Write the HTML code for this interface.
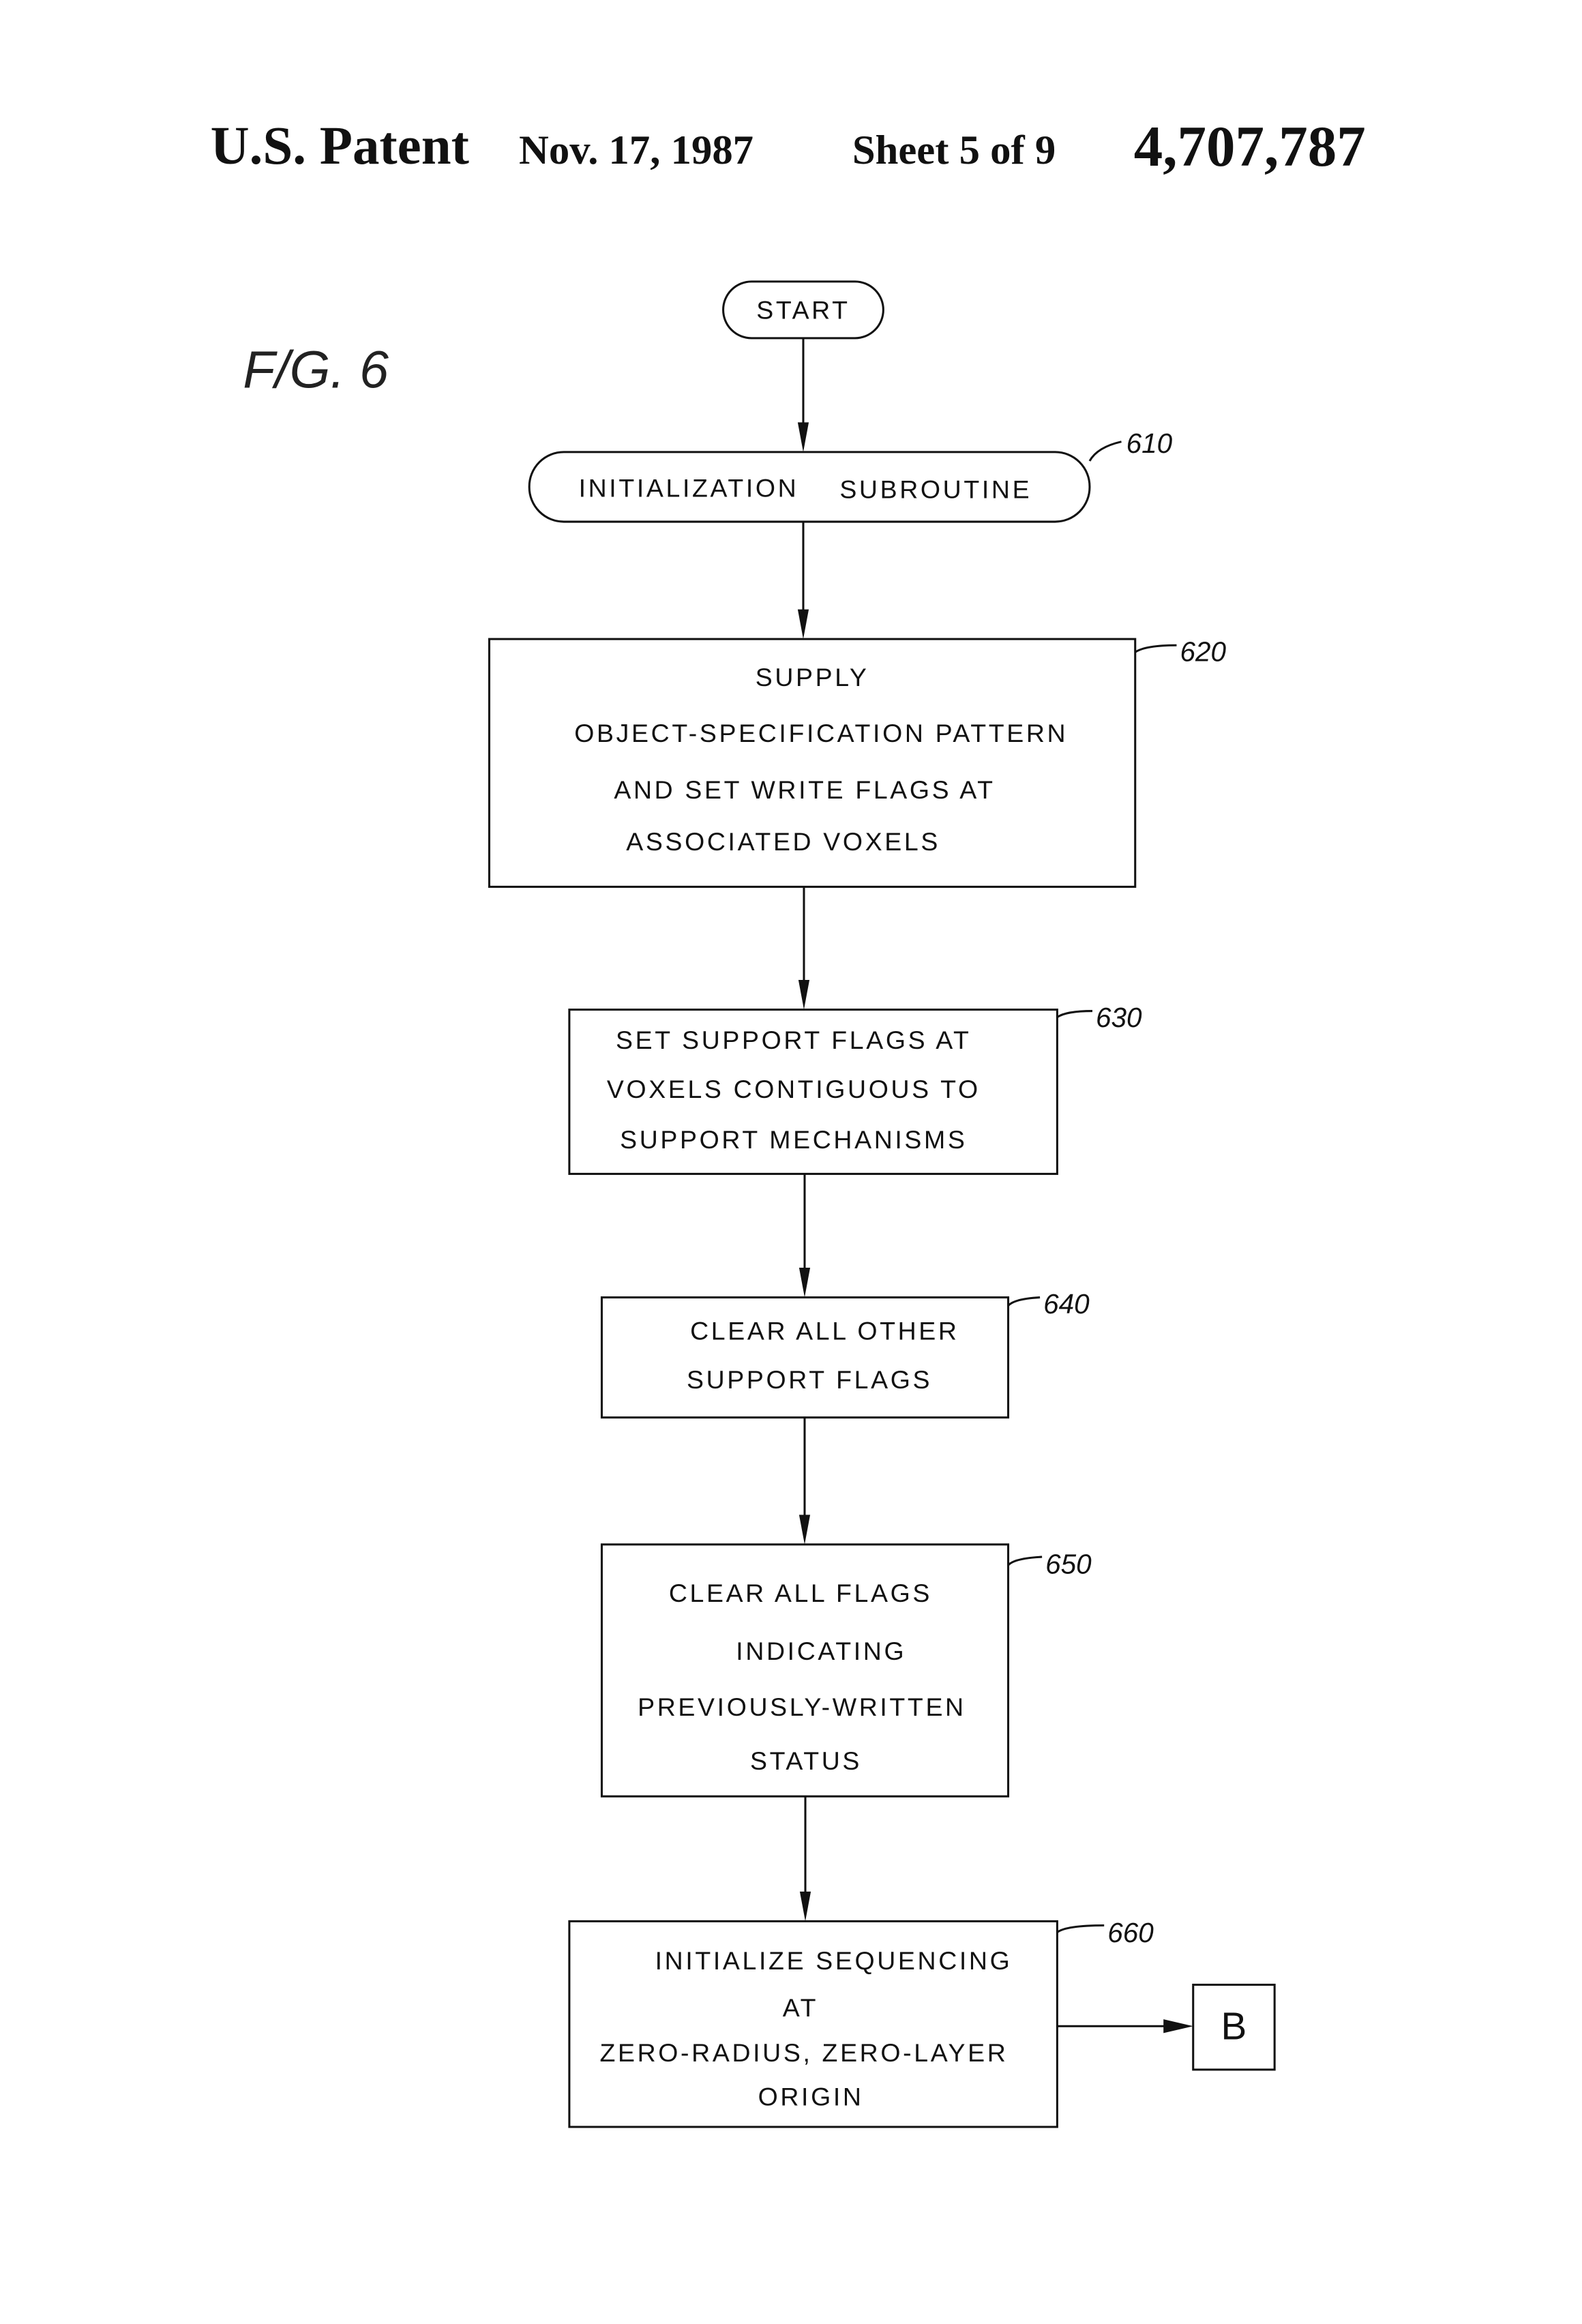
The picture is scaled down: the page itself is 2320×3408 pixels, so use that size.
<!DOCTYPE html>
<html><head><meta charset="utf-8"><style>
html,body{margin:0;padding:0;background:#fff;}
svg{display:block;}
.h{font-family:"Liberation Serif",serif;font-weight:bold;fill:#111;}
.t{font-family:"Liberation Sans",sans-serif;font-size:37px;letter-spacing:3.6px;fill:#111;text-anchor:middle;}
.l{font-family:"Liberation Sans",sans-serif;font-size:40px;font-style:italic;fill:#111;}
</style></head><body>
<svg width="2320" height="3408" viewBox="0 0 2320 3408" xmlns="http://www.w3.org/2000/svg">
<g transform="scale(1.012)">
<text class="h" x="305" y="237" font-size="78">U.S. Patent</text>
<text class="h" x="752" y="237" font-size="60">Nov. 17, 1987</text>
<text class="h" x="1235" y="237" font-size="60">Sheet 5 of 9</text>
<text class="h" x="1643" y="240" font-size="84">4,707,787</text>
<text x="352" y="562" style="font-family:'Liberation Sans',sans-serif;font-size:76px;font-style:italic;fill:#222">F/G. 6</text>

<g fill="none" stroke="#111" stroke-width="3">
<rect x="1048" y="408" width="232" height="82" rx="41"/>
<rect x="767" y="655" width="812" height="101" rx="50"/>
<rect x="709" y="926" width="936" height="359"/>
<rect x="825" y="1463" width="707" height="238"/>
<rect x="872" y="1880" width="589" height="174"/>
<rect x="872" y="2238" width="589" height="365"/>
<rect x="825" y="2784" width="707" height="298"/>
<rect x="1729" y="2876" width="118" height="123"/>
<line x1="1164" y1="490" x2="1164" y2="630"/>
<line x1="1164" y1="756" x2="1164" y2="901"/>
<line x1="1165" y1="1285" x2="1165" y2="1438"/>
<line x1="1166" y1="1701" x2="1166" y2="1855"/>
<line x1="1166" y1="2054" x2="1166" y2="2213"/>
<line x1="1167" y1="2603" x2="1167" y2="2759"/>
<line x1="1532" y1="2936" x2="1704" y2="2936"/>
<path d="M1579 668 Q1590 648 1625 640"/>
<path d="M1645 945 Q1660 935 1705 935"/>
<path d="M1532 1474 Q1545 1465 1583 1465"/>
<path d="M1461 1892 Q1470 1882 1507 1880"/>
<path d="M1461 2268 Q1470 2258 1510 2256"/>
<path d="M1532 2800 Q1545 2790 1600 2790"/>
</g>
<g fill="#111">
<polygon points="1156,612 1172,612 1164,655"/>
<polygon points="1156,883 1172,883 1164,926"/>
<polygon points="1157,1420 1173,1420 1165,1463"/>
<polygon points="1158,1837 1174,1837 1166,1880"/>
<polygon points="1158,2195 1174,2195 1166,2238"/>
<polygon points="1159,2741 1175,2741 1167,2784"/>
<polygon points="1686,2926 1686,2946 1729,2936"/>
</g>

<text class="t" x="1164" y="462">START</text>
<text class="t" x="998" y="720">INITIALIZATION</text>
<text class="t" x="1356" y="722">SUBROUTINE</text>
<text class="t" x="1177" y="994">SUPPLY</text>
<text class="t" x="1190" y="1075">OBJECT-SPECIFICATION PATTERN</text>
<text class="t" x="1166" y="1157">AND SET WRITE FLAGS AT</text>
<text class="t" x="1135" y="1232">ASSOCIATED  VOXELS</text>
<text class="t" x="1150" y="1520">SET SUPPORT FLAGS AT</text>
<text class="t" x="1150" y="1591">VOXELS CONTIGUOUS TO</text>
<text class="t" x="1150" y="1664">SUPPORT  MECHANISMS</text>
<text class="t" x="1195" y="1941">CLEAR ALL OTHER</text>
<text class="t" x="1173" y="2012">SUPPORT  FLAGS</text>
<text class="t" x="1160" y="2321">CLEAR ALL FLAGS</text>
<text class="t" x="1190" y="2405">INDICATING</text>
<text class="t" x="1162" y="2486">PREVIOUSLY-WRITTEN</text>
<text class="t" x="1168" y="2564">STATUS</text>
<text class="t" x="1208" y="2854">INITIALIZE SEQUENCING</text>
<text class="t" x="1160" y="2922">AT</text>
<text class="t" x="1165" y="2987">ZERO-RADIUS, ZERO-LAYER</text>
<text class="t" x="1175" y="3051">ORIGIN</text>
<text x="1788" y="2955" text-anchor="middle" font-family="Liberation Sans,sans-serif" font-size="56" fill="#111">B</text>

<text class="l" x="1632" y="656">610</text>
<text class="l" x="1710" y="958">620</text>
<text class="l" x="1588" y="1488">630</text>
<text class="l" x="1512" y="1903">640</text>
<text class="l" x="1515" y="2280">650</text>
<text class="l" x="1605" y="2814">660</text>
</g>
</svg>
</body></html>
